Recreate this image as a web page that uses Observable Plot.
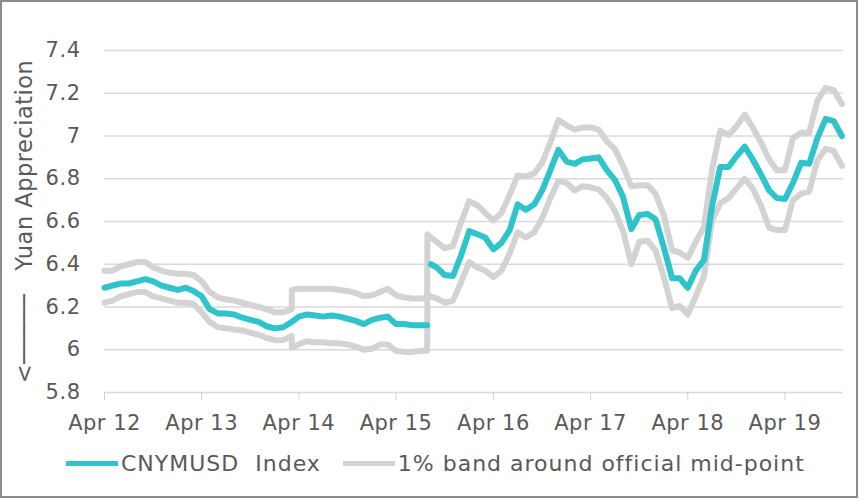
<!DOCTYPE html>
<html>
<head>
<meta charset="utf-8">
<script src="https://cdn.jsdelivr.net/npm/d3@7"></script>
<script src="https://cdn.jsdelivr.net/npm/@observablehq/plot@0.6"></script>
<style>
  html, body { margin: 0; padding: 0; background: #fff; }
  #wrap { position: relative; width: 860px; height: 500px; overflow: hidden; }
  #chart { position: absolute; left: 0; top: 0; }
  #chart svg text { letter-spacing: 0.5px; }
  #legend { position: absolute; left: 66px; top: 451px; height: 25px; display: flex; align-items: center;
            font-family: "DejaVu Sans", sans-serif; font-size: 22px; color: #595959; letter-spacing: 1px; white-space: pre; }
  .sw { display: inline-block; width: 52px; height: 5px; }
  #frame { position: absolute; left: 0; top: 0; width: 858px; height: 498px; border: 2px solid #8c8c8c;
           box-sizing: border-box; pointer-events: none; }
</style>
</head>
<body>
<div id="wrap">
  <div id="chart"></div>
  <div id="legend"></div>
  <div id="frame"></div>
</div>
<script>
// ---- data ----
const dates = [
  "2012-04-01","2012-05-01","2012-06-01","2012-07-01","2012-08-01","2012-09-01","2012-10-01","2012-11-01","2012-12-01",
  "2013-01-01","2013-02-01","2013-03-01","2013-04-01","2013-05-01","2013-06-01","2013-07-01","2013-08-01","2013-09-01",
  "2013-10-01","2013-11-01","2013-12-01","2014-01-01","2014-02-01","2014-03-05","2014-03-06","2014-04-01","2014-05-01",
  "2014-06-01","2014-07-01","2014-08-01","2014-09-01","2014-10-01","2014-11-01","2014-12-01","2015-01-01","2015-02-01",
  "2015-03-01","2015-04-01","2015-05-01","2015-06-01","2015-07-01","2015-07-27","2015-07-28","2015-08-01","2015-08-10",
  "2015-09-01","2015-10-01","2015-11-01","2015-12-01","2016-01-01","2016-02-01","2016-03-01","2016-04-01","2016-05-01",
  "2016-06-01","2016-07-01","2016-08-01","2016-09-01","2016-10-01","2016-11-01","2016-12-01","2017-01-01","2017-02-01",
  "2017-03-01","2017-04-01","2017-05-01","2017-06-01","2017-07-01","2017-08-01","2017-09-01","2017-10-01","2017-11-01",
  "2017-12-01","2018-01-01","2018-02-01","2018-03-01","2018-04-01","2018-05-01","2018-06-01","2018-07-01","2018-08-01",
  "2018-09-01","2018-10-01","2018-11-01","2018-12-01","2019-01-01","2019-02-01","2019-03-01","2019-04-01","2019-05-01",
  "2019-06-01","2019-07-01","2019-08-01","2019-09-01","2019-10-01","2019-11-01"
];
const cnymusd = [
  6.29,6.30,6.31,6.31,6.32,6.33,6.32,6.30,6.29,
  6.28,6.29,6.275,6.25,6.19,6.17,6.17,6.165,6.15,
  6.14,6.13,6.11,6.10,6.105,6.13,6.13,6.155,6.165,
  6.16,6.155,6.16,6.155,6.145,6.135,6.12,6.14,6.15,
  6.155,6.12,6.12,6.115,6.115,6.115,null,null,6.40,
  6.385,6.35,6.345,6.44,6.555,6.54,6.525,6.47,6.50,
  6.56,6.68,6.655,6.68,6.745,6.84,6.935,6.88,6.87,
  6.89,6.895,6.90,6.84,6.795,6.715,6.565,6.63,6.635,
  6.61,6.48,6.335,6.335,6.29,6.37,6.42,6.67,6.855,
  6.855,6.905,6.95,6.89,6.82,6.745,6.71,6.705,6.78,
  6.875,6.87,6.99,7.08,7.07,7.00
];
const bandUpper = [
  6.37,6.37,6.39,6.40,6.41,6.41,6.385,6.37,6.36,
  6.355,6.355,6.35,6.32,6.27,6.245,6.235,6.23,6.22,
  6.21,6.20,6.19,6.175,6.175,6.19,6.28,6.285,6.285,
  6.285,6.285,6.285,6.28,6.275,6.265,6.25,6.255,6.27,
  6.285,6.255,6.245,6.24,6.24,6.24,6.54,6.535,6.525,
  6.505,6.475,6.485,6.595,6.695,6.675,6.64,6.605,6.64,
  6.725,6.815,6.81,6.825,6.875,6.97,7.075,7.05,7.03,
  7.04,7.04,7.03,6.975,6.94,6.86,6.765,6.77,6.77,
  6.73,6.63,6.465,6.455,6.43,6.505,6.575,6.84,7.025,
  7.005,7.045,7.10,7.04,6.97,6.89,6.84,6.84,6.99,
  7.015,7.015,7.165,7.225,7.215,7.15
];
const bandLower = [
  6.22,6.23,6.25,6.26,6.27,6.27,6.25,6.24,6.23,
  6.22,6.22,6.215,6.175,6.13,6.105,6.10,6.095,6.09,
  6.08,6.07,6.055,6.045,6.045,6.065,6.01,6.025,6.04,
  6.035,6.035,6.03,6.03,6.025,6.015,6.00,6.005,6.025,
  6.025,5.995,5.99,5.99,5.995,5.995,6.26,6.255,6.25,
  6.24,6.22,6.23,6.315,6.41,6.385,6.37,6.34,6.37,
  6.45,6.55,6.525,6.55,6.615,6.71,6.79,6.78,6.745,
  6.765,6.76,6.75,6.71,6.65,6.555,6.40,6.505,6.51,
  6.465,6.34,6.195,6.205,6.165,6.25,6.345,6.605,6.685,
  6.71,6.755,6.80,6.755,6.675,6.57,6.56,6.56,6.70,
  6.73,6.74,6.885,6.94,6.93,6.86
];
const xTickDates = ["2012-04-01","2013-04-01","2014-04-01","2015-04-01","2016-04-01","2017-04-01","2018-04-01","2019-04-01"];
const xTickLabels = ["Apr 12","Apr 13","Apr 14","Apr 15","Apr 16","Apr 17","Apr 18","Apr 19"];
const yTicks = [5.8, 6.0, 6.2, 6.4, 6.6, 6.8, 7.0, 7.2, 7.4];
const yTickLabels = ["5.8","6","6.2","6.4","6.6","6.8","7","7.2","7.4"];
const yTitle = "<\u2500\u2500\u2500\u2500\u2500\u00a0\u00a0\u00a0Yuan Appreciation";
const seriesNames = ["CNYMUSD  Index", "1% band around official mid-point"];
const xDomain = ["2012-04-01", "2019-11-07"];

// ---- build table ----
const parse = s => new Date(s + "T00:00:00Z");
const rows = dates.map((d, i) => ({date: parse(d), mid: cnymusd[i], up: bandUpper[i], lo: bandLower[i]}));
const tickDates = xTickDates.map(parse);

const teal = "#2fc3cb";
const gray = "#d3d3d3";
const textCol = "#595959";

const chart = Plot.plot({
  width: 860,
  height: 440,
  marginLeft: 104,
  marginRight: 17,
  marginTop: 50,
  marginBottom: 48,
  style: {fontFamily: "DejaVu Sans, sans-serif", fontSize: "21px", color: textCol, background: "white"},
  x: {type: "utc", domain: xDomain.map(parse)},
  y: {domain: [5.8, 7.4]},
  marks: [
    Plot.gridY(yTicks.filter(v => v > 5.8), {stroke: "#d9d9d9", strokeOpacity: 1, strokeWidth: 1.3}),
    Plot.ruleY([5.8], {stroke: "#d9d9d9", strokeWidth: 1.5}),
    Plot.axisX({ticks: tickDates, tickFormat: (d, i) => xTickLabels[i], tickSize: 8, tickPadding: 15,
                stroke: "#d0d0d0", fill: textCol, fontSize: 21, label: null}),
    Plot.axisY({ticks: yTicks, tickFormat: (d, i) => yTickLabels[i], tickSize: 0, tickPadding: 24,
                fill: textCol, fontSize: 21, label: null}),
    Plot.text([yTitle], {frameAnchor: "left", dx: -80, rotate: -90, textAnchor: "middle",
                         fontSize: 22.5, fill: textCol}),
    Plot.line(rows, {x: "date", y: "up", stroke: gray, strokeWidth: 6}),
    Plot.line(rows, {x: "date", y: "lo", stroke: gray, strokeWidth: 6}),
    Plot.line(rows, {x: "date", y: "mid", stroke: teal, strokeWidth: 6})
  ]
});
document.getElementById("chart").appendChild(chart);

// ---- legend ----
const legend = document.getElementById("legend");
const colors = [teal, gray];
seriesNames.forEach((name, i) => {
  const sw = document.createElement("span");
  sw.className = "sw";
  sw.style.background = colors[i];
  sw.style.marginLeft = i === 0 ? "0px" : "22px";
  sw.style.marginRight = "3px";
  const t = document.createElement("span");
  t.textContent = name;
  legend.appendChild(sw);
  legend.appendChild(t);
});
</script>
</body>
</html>
